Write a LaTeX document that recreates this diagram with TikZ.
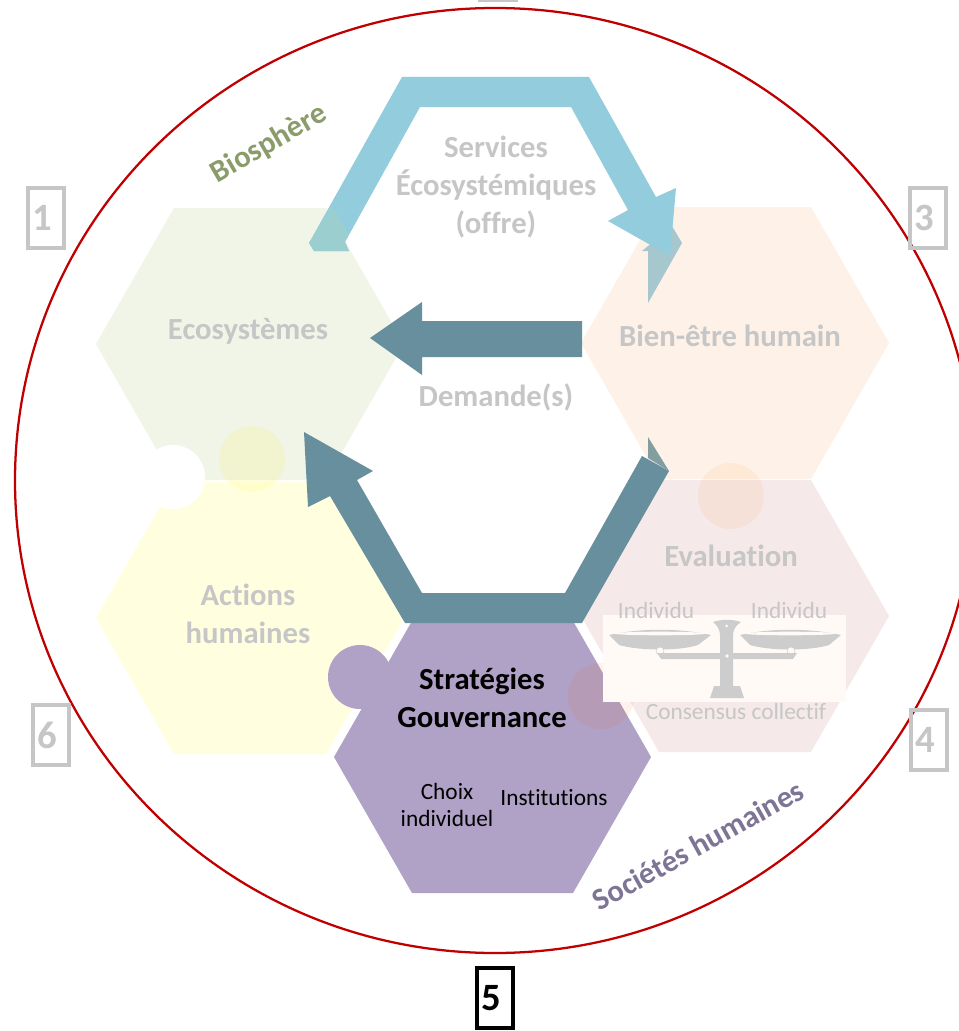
\documentclass[tikz,border=0pt]{standalone}
\usepackage{fontspec}
\setmainfont[Ligatures=NoCommon]{Carlito}
\usepackage{xcolor}
\usetikzlibrary{positioning}
\definecolor{hfgrey}{RGB}{198,198,198}
\definecolor{hfred}{RGB}{192,0,0}
\definecolor{hfeco}{RGB}{241,245,232}
\definecolor{hfact}{RGB}{255,255,224}
\definecolor{hfbien}{RGB}{254,241,232}
\definecolor{hfeval}{RGB}{245,233,233}
\definecolor{hfstrat}{RGB}{176,161,198}
\definecolor{hfsky}{RGB}{147,205,221}
\definecolor{hfskyeco}{RGB}{155,207,207}
\definecolor{hfskybien}{RGB}{166,199,206}
\definecolor{hfdark}{RGB}{103,143,157}
\definecolor{hfdarktip}{RGB}{130,158,160}
\definecolor{hfbio}{RGB}{139,156,106}
\definecolor{hfsoc}{RGB}{126,116,150}
\definecolor{hfcream}{RGB}{255,250,246}
\definecolor{hfscale}{RGB}{205,205,205}
\tikzstyle{lab} = [text=hfgrey, font=\fontsize{23}{28.5}\selectfont\bfseries, align=center]
\tikzstyle{smalllab} = [text=hfgrey, font=\fontsize{17.5}{20}\selectfont]
\tikzstyle{num} = [draw=hfgrey, line width=3pt, text=hfgrey, font=\fontsize{29}{30}\selectfont\bfseries, minimum width=27pt, minimum height=45pt, inner sep=0pt, execute at begin node=\hspace*{-5pt}]
\tikzstyle{darktxt} = [text=black, font=\fontsize{17.5}{20}\selectfont, align=center]
\newcommand{\hexpath}[4]{\fill[#1] (#2-#4,#3) -- (#2-#4+78,#3-136) -- (#2+#4-78,#3-136) -- (#2+#4,#3) -- (#2+#4-78,#3+136) -- (#2-#4+78,#3+136) -- cycle;}

\begin{document}
\begin{tikzpicture}[x=0.75pt, y=-0.75pt]
\clip (0,0) rectangle (959,1031);
\fill[white] (0,0) rectangle (959,1031);

% Hexagons
\hexpath{hfeco}{250}{344}{154}
\hexpath{hfact}{250}{618}{154}
\hexpath{hfbien}{735}{343}{154}
\hexpath{hfeval}{735}{616}{154}
\fill[white] (173,477) circle (32);
\fill[yellow, opacity=0.10] (252,459) circle (33);
\fill[orange, opacity=0.07] (731,496) circle (33);
\hexpath{hfstrat}{492.5}{757}{158.5}
\fill[hfstrat] (360,677) circle (32);
\fill[orange!70!red, opacity=0.08] (601,696) circle (33);

% Red circle
\draw[hfred, line width=1.7pt] (495,480.5) ellipse (480 and 472.5);

% Arrows
\fill[hfskybien] (642,251) -- (648,251) -- (648,303) -- (682,243) -- (672,226) -- cycle;
\fill[hfsky] (345,242) -- (420,107) -- (571,107) -- (628,210) -- (608,221) -- (670,256) -- (676,188) -- (656,197) -- (589,77) -- (402,77) -- (309,243) -- (314,251) -- (349,251) -- cycle;
\fill[hfskyeco] (309,243) -- (314,251) -- (349,251) -- (345,242) -- (348,233) -- (332,206) -- cycle;
\fill[hfdark] (370,338) -- (422,302) -- (422,321) -- (582,321) -- (582,357) -- (422,357) -- (422,375) -- cycle;
\fill[hfdarktip] (648,437) -- (648,458) -- (669,471) -- cycle;
\fill[hfdark] (304,432) -- (373,471) -- (357,480) -- (422,593) -- (565,593) -- (642,456) -- (669,471) -- (582,623) -- (405,623) -- (330,496) -- (308,507) -- cycle;

% Balance
\fill[hfcream] (603,615) rectangle (846,702);
\fill[hfscale] (609,635) .. controls (640,628) and (680,628) .. (711,635) -- (698,645) .. controls (680,651) and (640,651) .. (619,645) -- cycle;
\fill[hfscale] (740,635) .. controls (770,628) and (810,628) .. (841,635) -- (829,645) .. controls (810,651) and (770,651) .. (750,645) -- cycle;
\fill[hfcream] (660,633.5) ellipse (46 and 1.8);
\fill[hfcream] (790,633.5) ellipse (46 and 1.8);
\draw[hfscale, fill=hfcream] (660,651) circle (4);
\draw[hfscale, fill=hfcream] (791,651) circle (4);
\fill[hfscale] (657,653) -- (797,653) -- (793,659) -- (661,659) -- cycle;
\fill[hfscale] (720,635) -- (733,635) -- (733,686) -- (740,686) -- (744,698) -- (710,698) -- (714,686) -- (720,686) -- cycle;
\fill[hfscale] (713,622) .. controls (722,619) and (732,619) .. (741,622) .. controls (735,626) and (733,630) .. (733,636) -- (720,636) .. controls (720,630) and (718,626) .. (713,622) -- cycle;
\fill[hfcream] (727,656) circle (1.8);
\fill[hfcream] (726.5,626) circle (1.5);

% Labels
\node[lab] (services) at (496,187) {Services\\Écosystémiques\\(offre)};
\node[lab] (eco) at (248,331) {Ecosystèmes};
\node[lab] (bien) at (730,336) {Bien-être humain};
\node[lab] (demande) at (496,397) {Demande(s)};
\node[lab] (actions) at (248,614) {Actions\\humaines};
\node[lab] (evaluation) at (731,556) {Evaluation};
\node[smalllab] (ind1) at (656,610) {Individu};
\node[smalllab] (ind2) at (789,610) {Individu};
\node[smalllab] (consensus) at (736,711) {Consensus collectif};
\node[lab, text=black] (strat) at (482,698) {Stratégies\\Gouvernance};
\node[darktxt] (choix) at (447,805) {Choix\\individuel};
\node[darktxt] (inst) at (554,798) {Institutions};
\node[lab, text=hfbio, rotate=30] (bio) at (269,144) {Biosphère};
\node[lab, text=hfsoc, rotate=29] (soc) at (698,845) {Sociétés humaines};

% Numbers
\node[num] (n1) at (45.5,218) {1};
\node[num] (n2) at (498,-30) {};
\node[num] (n3) at (927.5,218) {3};
\node[num] (n4) at (929,739.5) {4};
\node[num, draw=black, text=black] (n5) at (495,998) {5};
\node[num] (n6) at (51,735) {6};
\end{tikzpicture}
\end{document}
